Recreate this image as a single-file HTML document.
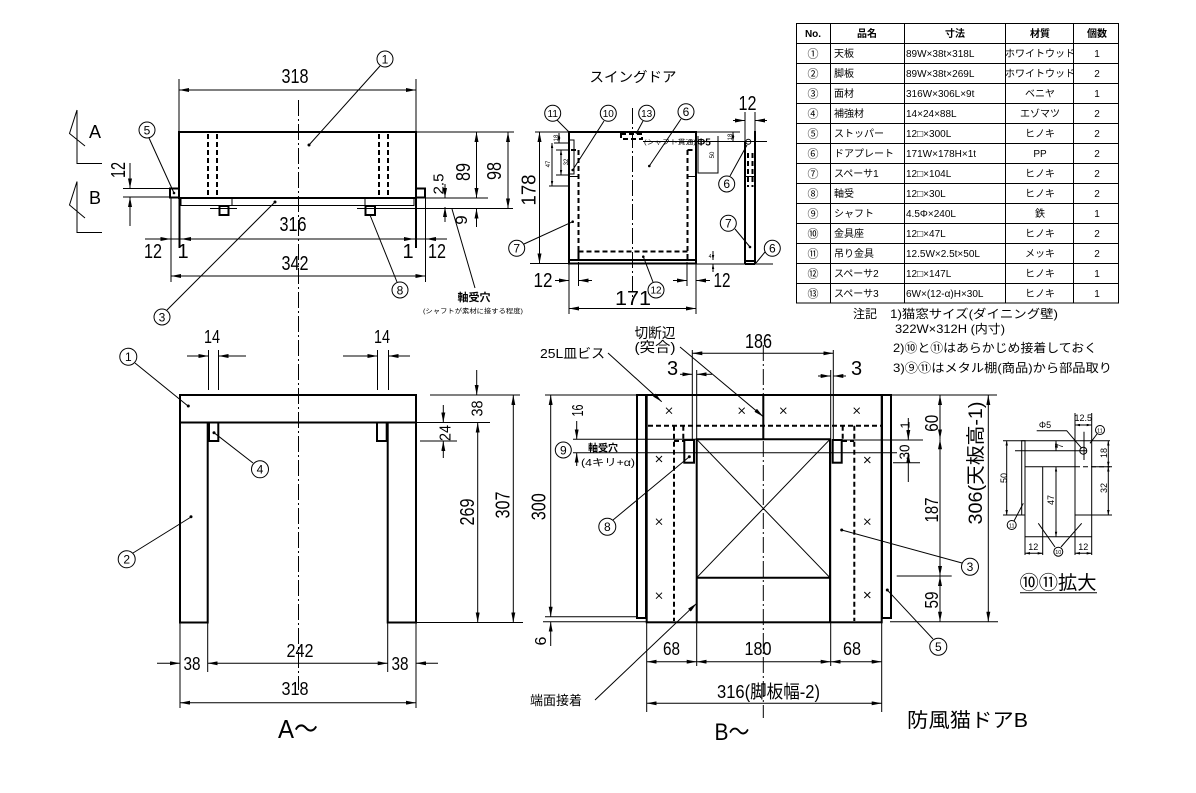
<!DOCTYPE html>
<html><head><meta charset="utf-8"><title>防風猫ドアB</title>
<style>
html,body{margin:0;padding:0;background:#fff;width:1196px;height:793px;overflow:hidden}
svg{display:block}
text{font-family:"Liberation Sans","Noto Sans CJK JP",sans-serif;fill:#000}
.t,.t *{stroke:#000;stroke-width:1;fill:none}
.k,.k *{stroke:#000;stroke-width:2;fill:none}
.ds,.ds *{stroke:#000;stroke-width:2;fill:none;stroke-dasharray:5 3}
.cl{stroke:#000;stroke-width:1;fill:none;stroke-dasharray:16 3 2 3}
.m{marker-start:url(#a);marker-end:url(#a)}
.e{marker-end:url(#a)}
.ms{marker-start:url(#s);marker-end:url(#s)}
.es{marker-end:url(#s)}
.n{font-size:20px;text-anchor:middle}
.c{font-size:12px;text-anchor:middle}
.c2{font-size:10px;text-anchor:middle}
.tb{font-size:10px}
.tc{font-size:10px;text-anchor:middle}
.tn{font-size:11px;text-anchor:middle}
.sm{font-size:8px;text-anchor:middle}
</style></head>
<body>
<svg width="1196" height="793" viewBox="0 0 1196 793" xmlns="http://www.w3.org/2000/svg">
<defs>
<marker id="a" viewBox="0 0 10 4" refX="10" refY="2" markerWidth="10" markerHeight="4" markerUnits="userSpaceOnUse" orient="auto-start-reverse"><path d="M0,0L10,2L0,4z" fill="#000"/></marker>
<marker id="s" viewBox="0 0 6 3" refX="6" refY="1.5" markerWidth="5" markerHeight="2.5" markerUnits="userSpaceOnUse" orient="auto-start-reverse"><path d="M0,0L6,1.5L0,3z" fill="#000"/></marker>
</defs>
<rect width="1196" height="793" fill="#fff"/>

<!-- ================= TOP VIEW ================= -->
<g class="t">
<path d="M179,79V131M416,79V131"/>
<path d="M417,132H514"/>
<path d="M425,198H488"/>
<path d="M357,208.5H513"/>
<path d="M210,208.5H237"/>
<rect x="181" y="198" width="233" height="7.5"/>
<path d="M232,198V205.5M365,198V205.5"/>
<path d="M123,188.5H170M123,197H170"/>
<path d="M171,198V282M425.5,198V282"/>
<path d="M145,239H447"/>
<path class="m" d="M179,90H416"/>
<path class="e" d="M130,163V188.5"/>
<path class="e" d="M130,226V197"/>
<path class="e" d="M150,239H170.5"/>
<path class="m" d="M181,239H414"/>
<path class="e" d="M446,239H426"/>
<path class="m" d="M171,276H425.5"/>
<path class="m" d="M476.5,132V198"/>
<path class="e" d="M476.5,227V208.5"/>
<path class="m" d="M508,132V208.5"/>
<path class="e" d="M445,184V198"/>
<path class="e" d="M445,222V207"/>
<path d="M77,110V163.5H102M77,110L69.5,133.5L85,146"/>
<path d="M77,181.5V232.5H102M77,181.5L69.5,205L85,218"/>
<path d="M380,66L309,145M149,138L174,193M167,310L275,202M397,282L370,215M452,209L475,288"/>
<circle cx="385" cy="59" r="8"/>
<circle cx="147" cy="130" r="8"/>
<circle cx="162" cy="317" r="8"/>
<circle cx="400" cy="290" r="8"/>
</g>
<g class="k">
<rect x="179" y="132" width="237" height="66"/>
<rect x="170" y="188.5" width="9" height="9"/>
<rect x="416" y="188.5" width="9" height="9"/>
<rect x="219.5" y="206" width="9" height="9"/>
<rect x="365.5" y="206" width="9.5" height="9"/>
<path d="M179.5,198V248M416,198V248"/>
</g>
<g class="ds"><path d="M208,134V197M217,134V197M379,134V197M388,134V197"/></g>
<path class="cl" d="M298.5,100V690"/>
<g fill="#000"><circle cx="309" cy="145" r="1.5"/><circle cx="275" cy="202" r="1.5"/><circle cx="174" cy="193" r="1.3"/></g>

<text class="n" x="295" y="83" textLength="27" lengthAdjust="spacingAndGlyphs">318</text>
<text class="n" x="293" y="231" textLength="27" lengthAdjust="spacingAndGlyphs">316</text>
<text class="n" x="295" y="270" textLength="27" lengthAdjust="spacingAndGlyphs">342</text>
<text class="n" x="153" y="258" textLength="18" lengthAdjust="spacingAndGlyphs">12</text>
<text class="n" x="183" y="258">1</text>
<text class="n" x="408" y="258">1</text>
<text class="n" x="437" y="258" textLength="18" lengthAdjust="spacingAndGlyphs">12</text>
<text class="n" x="118" y="170" dy=".36em" transform="rotate(-90 118 170)" textLength="16" lengthAdjust="spacingAndGlyphs">12</text>
<text class="n" x="463" y="172" dy=".36em" transform="rotate(-90 463 172)" textLength="18" lengthAdjust="spacingAndGlyphs">89</text>
<text class="n" x="494" y="171" dy=".36em" transform="rotate(-90 494 171)" textLength="18" lengthAdjust="spacingAndGlyphs">98</text>
<text class="n" style="font-size:15px" x="438" y="184" dy=".36em" transform="rotate(-90 438 184)" textLength="21" lengthAdjust="spacingAndGlyphs">2.5</text>
<text class="n" style="font-size:17px" x="461" y="220" dy=".36em" transform="rotate(-90 461 220)">9</text>
<text style="font-size:18px" x="89" y="138">A</text>
<text style="font-size:18px" x="89" y="204">B</text>
<text class="c" x="385" y="63.5">1</text>
<text class="c" x="147" y="134.5">5</text>
<text class="c" x="162" y="321.5">3</text>
<text class="c" x="400" y="294.5">8</text>
<text x="474" y="301" style="font-size:11px;font-weight:bold;text-anchor:middle">軸受穴</text>
<text x="473" y="313" style="font-size:6.5px;text-anchor:middle" textLength="100" lengthAdjust="spacingAndGlyphs">(シャフトが素材に接する程度)</text>

<!-- ================= SWING DOOR ================= -->
<text x="633" y="82" style="font-size:14px;text-anchor:middle" textLength="87" lengthAdjust="spacingAndGlyphs">スイングドア</text>
<g class="k">
<rect x="569" y="132" width="127" height="131.5"/>
<path d="M569,260H696"/>
<path d="M745,142V264M755,131V264M745,264H755M745,261H755"/>
</g>
<g class="t">
<path d="M569,176.5H578M688,176.5H696M745,176.5H755"/>
<rect x="569.5" y="140" width="4.5" height="34"/>
<path d="M698,136V173H718V136"/>
<path d="M643,141.5H767"/>
<path d="M535,132H569M530,263.5H569"/>
<path class="m" d="M539.5,132V263.5"/>
<path d="M554,143H569M556,150H569M556,175H569M549,186H569"/>
<path class="ms" d="M559,133V143"/>
<path class="ms" d="M561,150V175"/>
<path class="ms" d="M552,143V186"/>
<path d="M696,132H740"/>
<path class="ms" d="M733,132V141.5"/>
<path d="M745,112V141M755,112V131"/>
<path class="e" d="M733,120.5H745"/>
<path class="e" d="M767,120.5H755"/>
<path d="M696,264H773"/>
<path d="M578.5,262V286M687,262V286M569,264V314M696,264V314"/>
<path class="e" d="M555,280.5H569"/>
<path class="e" d="M592,280.5H578.5"/>
<path class="e" d="M673,280.5H687"/>
<path class="e" d="M710,280.5H696"/>
<path class="m" d="M569,308.5H696"/>
<path class="es" d="M713,251V260"/>
<path class="es" d="M713,272V264"/>
<path d="M557,120L569,132M604,121L572.7,170M643,121L636,134M681,119L649.3,166M524,244L572.7,221.7M653,282L643.3,256.7M730,176L747,145M735,229L750,247M765,252L756,263"/>
<circle cx="748.3" cy="141.7" r="2.5"/>
<circle cx="552.7" cy="113.3" r="8"/>
<circle cx="608.3" cy="113.3" r="8"/>
<circle cx="646.7" cy="113.3" r="8"/>
<circle cx="686" cy="111.7" r="8"/>
<circle cx="516.7" cy="248.3" r="8"/>
<circle cx="656" cy="290" r="8"/>
<circle cx="726.7" cy="184" r="8"/>
<circle cx="728.3" cy="223.3" r="8"/>
<circle cx="772.3" cy="248.3" r="8"/>
</g>
<g class="ds">
<path d="M578.5,150V259M687.5,150V259M571,150H578.5M687.5,150H694"/>
<rect x="578.5" y="251.5" width="109" height="8.5"/>
<rect x="621" y="134" width="21" height="5"/>
<path d="M748,153V187M752.5,153V187"/>
</g>
<path class="cl" d="M632.5,108V298"/>
<g fill="#000"><circle cx="572.7" cy="170" r="1.3"/><circle cx="649.3" cy="166" r="1.3"/><circle cx="572.7" cy="221.7" r="1.3"/><circle cx="643.3" cy="256.7" r="1.3"/><circle cx="750" cy="247" r="1.3"/></g>
<text class="n" x="528.5" y="190" dy=".36em" transform="rotate(-90 528.5 190)" textLength="31" lengthAdjust="spacingAndGlyphs">178</text>
<text class="n" x="543" y="287" textLength="19" lengthAdjust="spacingAndGlyphs">12</text>
<text class="n" x="722" y="287" textLength="17" lengthAdjust="spacingAndGlyphs">12</text>
<text class="n" x="633" y="305" textLength="36" lengthAdjust="spacingAndGlyphs">171</text>
<text class="n" x="747.5" y="110" textLength="18" lengthAdjust="spacingAndGlyphs">12</text>
<text class="sm" style="font-size:6px" x="556" y="138" dy=".36em" transform="rotate(-90 556 138)">18</text>
<text class="sm" style="font-size:6px" x="566" y="162" dy=".36em" transform="rotate(-90 566 162)">32</text>
<text class="sm" style="font-size:6px" x="548" y="164" dy=".36em" transform="rotate(-90 548 164)">47</text>
<text class="sm" style="font-size:6px" x="712" y="155" dy=".36em" transform="rotate(-90 712 155)">50</text>
<text class="sm" style="font-size:6px" x="730" y="137" dy=".36em" transform="rotate(-90 730 137)">18</text>
<text class="sm" style="font-size:5px" x="710" y="258">4</text>
<text x="644" y="144" style="font-size:6.5px" textLength="52" lengthAdjust="spacingAndGlyphs">(シャフト貫通)</text>
<text x="697" y="145.5" style="font-size:10px;font-weight:bold">Φ5</text>
<text class="c2" x="552.7" y="117">11</text>
<text class="c2" x="608.3" y="117">10</text>
<text class="c2" x="646.7" y="117">13</text>
<text class="c" x="686" y="116">6</text>
<text class="c" x="516.7" y="252.5">7</text>
<text class="c2" x="656" y="293.7">12</text>
<text class="c" x="726.7" y="188">6</text>
<text class="c" x="728.3" y="227.5">7</text>
<text class="c" x="772.3" y="252.5">6</text>

<!-- ================= TABLE ================= -->
<g class="t">
<rect x="796.5" y="23.5" width="322" height="279.5"/>
<path d="M830.5,23.5V303M904.5,23.5V303M1005.5,23.5V303M1073.5,23.5V303"/>
<path d="M796.5,43.5H1118.5M796.5,63.5H1118.5M796.5,83.5H1118.5M796.5,103.5H1118.5M796.5,123.5H1118.5M796.5,143.5H1118.5M796.5,163.5H1118.5M796.5,183.5H1118.5M796.5,203.5H1118.5M796.5,223.5H1118.5M796.5,243.5H1118.5M796.5,263.5H1118.5M796.5,283.5H1118.5"/>
</g>
<g style="font-weight:bold">
<text x="813" y="37" class="tc">No.</text>
<text x="867" y="37" class="tc">品名</text>
<text x="955" y="37" class="tc">寸法</text>
<text x="1040" y="37" class="tc">材質</text>
<text x="1097" y="37" class="tc">個数</text>
</g>
<g>
<text class="tn" x="813" y="57.5">①</text><text class="tb" x="834" y="57">天板</text><text class="tb" x="906" y="57">89W×38t×318L</text><text class="tc" x="1040" y="57">ホワイトウッド</text><text class="tc" x="1097" y="57">1</text>
<text class="tn" x="813" y="77.5">②</text><text class="tb" x="834" y="77">脚板</text><text class="tb" x="906" y="77">89W×38t×269L</text><text class="tc" x="1040" y="77">ホワイトウッド</text><text class="tc" x="1097" y="77">2</text>
<text class="tn" x="813" y="97.5">③</text><text class="tb" x="834" y="97">面材</text><text class="tb" x="906" y="97">316W×306L×9t</text><text class="tc" x="1040" y="97">ベニヤ</text><text class="tc" x="1097" y="97">1</text>
<text class="tn" x="813" y="117.5">④</text><text class="tb" x="834" y="117">補強材</text><text class="tb" x="906" y="117">14×24×88L</text><text class="tc" x="1040" y="117">エゾマツ</text><text class="tc" x="1097" y="117">2</text>
<text class="tn" x="813" y="137.5">⑤</text><text class="tb" x="834" y="137">ストッパー</text><text class="tb" x="906" y="137">12□×300L</text><text class="tc" x="1040" y="137">ヒノキ</text><text class="tc" x="1097" y="137">2</text>
<text class="tn" x="813" y="157.5">⑥</text><text class="tb" x="834" y="157">ドアプレート</text><text class="tb" x="906" y="157">171W×178H×1t</text><text class="tc" x="1040" y="157">PP</text><text class="tc" x="1097" y="157">2</text>
<text class="tn" x="813" y="177.5">⑦</text><text class="tb" x="834" y="177">スペーサ1</text><text class="tb" x="906" y="177">12□×104L</text><text class="tc" x="1040" y="177">ヒノキ</text><text class="tc" x="1097" y="177">2</text>
<text class="tn" x="813" y="197.5">⑧</text><text class="tb" x="834" y="197">軸受</text><text class="tb" x="906" y="197">12□×30L</text><text class="tc" x="1040" y="197">ヒノキ</text><text class="tc" x="1097" y="197">2</text>
<text class="tn" x="813" y="217.5">⑨</text><text class="tb" x="834" y="217">シャフト</text><text class="tb" x="906" y="217">4.5Φ×240L</text><text class="tc" x="1040" y="217">鉄</text><text class="tc" x="1097" y="217">1</text>
<text class="tn" x="813" y="237.5">⑩</text><text class="tb" x="834" y="237">金具座</text><text class="tb" x="906" y="237">12□×47L</text><text class="tc" x="1040" y="237">ヒノキ</text><text class="tc" x="1097" y="237">2</text>
<text class="tn" x="813" y="257.5">⑪</text><text class="tb" x="834" y="257">吊り金具</text><text class="tb" x="906" y="257">12.5W×2.5t×50L</text><text class="tc" x="1040" y="257">メッキ</text><text class="tc" x="1097" y="257">2</text>
<text class="tn" x="813" y="277.5">⑫</text><text class="tb" x="834" y="277">スペーサ2</text><text class="tb" x="906" y="277">12□×147L</text><text class="tc" x="1040" y="277">ヒノキ</text><text class="tc" x="1097" y="277">1</text>
<text class="tn" x="813" y="297.5">⑬</text><text class="tb" x="834" y="297">スペーサ3</text><text class="tb" x="906" y="297">6W×(12-α)H×30L</text><text class="tc" x="1040" y="297">ヒノキ</text><text class="tc" x="1097" y="297">1</text>
</g>

<!-- ================= NOTES ================= -->
<g style="font-size:12px">
<text x="853" y="318">注記</text>
<text x="890" y="318" textLength="168" lengthAdjust="spacingAndGlyphs">1)猫窓サイズ(ダイニング壁)</text>
<text x="895" y="333" textLength="110" lengthAdjust="spacingAndGlyphs">322W×312H (内寸)</text>
<text x="893" y="352" textLength="204" lengthAdjust="spacingAndGlyphs">2)⑩と⑪はあらかじめ接着しておく</text>
<text x="893" y="372" textLength="219" lengthAdjust="spacingAndGlyphs">3)⑨⑪はメタル棚(商品)から部品取り</text>
</g>

<!-- ================= A~ VIEW ================= -->
<g class="k">
<rect x="180" y="395" width="236" height="27.5"/>
<path d="M180,422.5V622.5H207.7V422.5M387.7,422.5V622.5H416V422.5"/>
<rect x="209" y="422.5" width="9.3" height="18.5"/>
<rect x="377" y="422.5" width="9.7" height="18.5"/>
</g>
<g class="t">
<path d="M208.5,350V390M218.5,350V390M377.5,350V390M388.5,350V390"/>
<path class="e" d="M187,356H208.5"/>
<path class="e" d="M246,356H218.5"/>
<path class="e" d="M343,356H377.5"/>
<path class="e" d="M410,356H388.5"/>
<path d="M430,395H520M417,422.5H490M420,441H457M417,622.5H523"/>
<path class="e" d="M476.7,370V395"/>
<path class="m" d="M477.7,422.5V622.5"/>
<path class="e" d="M443.3,405V422.5"/>
<path class="e" d="M443.3,458V441"/>
<path class="m" d="M513.3,395V622.5"/>
<path d="M180,622.5V708M207.7,622.5V672M387.7,622.5V672M416,622.5V708"/>
<path class="e" d="M157,663.3H180"/>
<path class="m" d="M207.7,663.3H387.7"/>
<path class="e" d="M438,663.3H416"/>
<path class="m" d="M180,702.7H416"/>
<path d="M135,363L188,406M133,553L191,517M253,463L214,432.7"/>
<circle cx="128.3" cy="356.7" r="8.5"/>
<circle cx="126.7" cy="559.3" r="8.5"/>
<circle cx="260" cy="469.3" r="8.5"/>
</g>
<g fill="#000"><circle cx="188.3" cy="406" r="1.5"/><circle cx="191" cy="516.7" r="1.5"/><circle cx="214" cy="432.7" r="1.5"/></g>
<text class="c" x="128.3" y="361">1</text>
<text class="c" x="126.7" y="563.5">2</text>
<text class="c" x="260" y="473.5">4</text>
<text class="n" style="font-size:18px" x="212" y="343" textLength="16" lengthAdjust="spacingAndGlyphs">14</text>
<text class="n" style="font-size:18px" x="382" y="343" textLength="16" lengthAdjust="spacingAndGlyphs">14</text>
<text class="n" style="font-size:16px" x="476.7" y="408.5" dy=".36em" transform="rotate(-90 476.7 408.5)" textLength="16" lengthAdjust="spacingAndGlyphs">38</text>
<text class="n" style="font-size:16px" x="444.5" y="433" dy=".36em" transform="rotate(-90 444.5 433)" textLength="16" lengthAdjust="spacingAndGlyphs">24</text>
<text class="n" x="466.7" y="512" dy=".36em" transform="rotate(-90 466.7 512)" textLength="27" lengthAdjust="spacingAndGlyphs">269</text>
<text class="n" x="502.5" y="505" dy=".36em" transform="rotate(-90 502.5 505)" textLength="27" lengthAdjust="spacingAndGlyphs">307</text>
<text class="n" style="font-size:18px" x="192" y="670" textLength="17" lengthAdjust="spacingAndGlyphs">38</text>
<text class="n" style="font-size:18px" x="300" y="657" textLength="27" lengthAdjust="spacingAndGlyphs">242</text>
<text class="n" style="font-size:18px" x="400" y="670" textLength="17" lengthAdjust="spacingAndGlyphs">38</text>
<text class="n" style="font-size:18px" x="295" y="695" textLength="27" lengthAdjust="spacingAndGlyphs">318</text>
<text x="298" y="738" style="font-size:26px;text-anchor:middle" textLength="40" lengthAdjust="spacingAndGlyphs">A～</text>

<!-- ================= B~ VIEW ================= -->
<g class="k">
<rect x="637" y="395" width="9" height="223"/>
<rect x="882" y="395" width="9" height="223"/>
<rect x="646.7" y="395" width="235" height="227.3"/>
<path d="M696.7,622.3V439.3H830V622.3M696.7,577.7H830M763.3,395V439.3"/>
<rect x="684.3" y="440" width="9.7" height="22.7"/>
<rect x="832.7" y="440" width="9" height="22.7"/>
</g>
<g class="ds"><path d="M648,425.7H881M674,425.7V621M854.3,425.7V621M683.3,425.7V441M842.7,425.7V441M674,441H684M842,441H854"/></g>
<g class="t">
<path d="M696.7,439.3L830,577.7M830,439.3L696.7,577.7"/>
<path d="M666,407.7l6,6m0,-6l-6,6M738.7,407.7l6,6m0,-6l-6,6M780.3,407.7l6,6m0,-6l-6,6M853.7,407.7l6,6m0,-6l-6,6M656,456l6,6m0,-6l-6,6M864.3,457l6,6m0,-6l-6,6M656,518.7l6,6m0,-6l-6,6M864.3,518.7l6,6m0,-6l-6,6M656,592.7l6,6m0,-6l-6,6M864.3,592l6,6m0,-6l-6,6"/>
<path d="M692.3,350V440M696.7,370V666M833.3,350V440M830.7,370V666"/>
<path class="m" d="M692.3,353.3H833.3"/>
<path class="e" d="M680,374.3H692.3"/>
<path class="e" d="M712,374.3H696.7"/>
<path class="e" d="M818,376H830.7"/>
<path class="e" d="M846,376H833.3"/>
<path d="M545,395H636M545,616.7H636M543,621.7H646"/>
<path class="m" d="M550.7,395V616.7"/>
<path class="e" d="M550.7,646V621.7"/>
<path d="M573,439.3H696.7M573,452.7H897M833,440H923"/>
<path class="e" d="M576.7,421V439.3"/>
<path class="e" d="M576.7,466V452.7"/>
<path d="M890,395H997M896.7,576H951.7M890,621.7H998M893,462.7H920"/>
<path class="m" d="M940,395V439.3"/>
<path class="m" d="M940,439.3V576"/>
<path class="m" d="M940,576V621.7"/>
<path class="m" d="M988.3,395V621.7"/>
<path class="e" d="M908.3,418V440"/>
<path class="e" d="M908.3,482V452.7"/>
<path d="M646.7,622V712M881.7,622V712"/>
<path class="m" d="M646.7,661.7H696.7"/>
<path class="m" d="M696.7,661.7H830.7"/>
<path class="m" d="M830.7,661.7H881.7"/>
<path class="m" d="M646.7,703.3H881.7"/>
<path class="e" d="M608,353L661.7,401.7"/>
<path class="e" d="M680,347L763.3,416.7"/>
<path class="e" d="M595,700L696.7,603.3"/>
<path d="M613,520L689.3,456.7M962,563L841.7,530M933,639L887.3,590"/>
<circle cx="563.3" cy="450" r="8"/>
<circle cx="607.3" cy="526.7" r="8.5"/>
<circle cx="970" cy="566.7" r="8.5"/>
<circle cx="938.3" cy="646.7" r="8.5"/>
</g>
<path class="cl" d="M763.3,345V718"/>
<g fill="#000"><circle cx="689.3" cy="456.7" r="1.5"/><circle cx="841.7" cy="530" r="1.5"/><circle cx="887.3" cy="590" r="1.5"/></g>
<text class="c" x="563.3" y="454.3">9</text>
<text class="c" x="607.3" y="531">8</text>
<text class="c" x="970" y="571">3</text>
<text class="c" x="938.3" y="651">5</text>
<text class="n" x="758.5" y="348" textLength="27" lengthAdjust="spacingAndGlyphs">186</text>
<text class="n" x="672.5" y="375">3</text>
<text class="n" x="856.5" y="375">3</text>
<text class="n" x="538.5" y="506.7" dy=".36em" transform="rotate(-90 538.5 506.7)" textLength="27" lengthAdjust="spacingAndGlyphs">300</text>
<text class="n" style="font-size:16px" x="540" y="641" dy=".36em" transform="rotate(-90 540 641)">6</text>
<text class="n" style="font-size:16px" x="577" y="410.5" dy=".36em" transform="rotate(-90 577 410.5)" textLength="12" lengthAdjust="spacingAndGlyphs">16</text>
<text x="588" y="451.5" style="font-size:10px;font-weight:bold">軸受穴</text>
<text x="581" y="466" style="font-size:10px" textLength="54" lengthAdjust="spacingAndGlyphs">(4キリ+α)</text>
<text x="540" y="358" style="font-size:13px" textLength="65" lengthAdjust="spacingAndGlyphs">25L皿ビス</text>
<text x="655" y="338" style="font-size:14px;text-anchor:middle" textLength="41" lengthAdjust="spacingAndGlyphs">切断辺</text>
<text x="655" y="352" style="font-size:14px;text-anchor:middle" textLength="41" lengthAdjust="spacingAndGlyphs">(突合)</text>
<text x="530" y="705" style="font-size:13px" textLength="52" lengthAdjust="spacingAndGlyphs">端面接着</text>
<text class="n" style="font-size:18px" x="931.5" y="423.3" dy=".36em" transform="rotate(-90 931.5 423.3)" textLength="17" lengthAdjust="spacingAndGlyphs">60</text>
<text class="n" style="font-size:18px" x="931.5" y="510" dy=".36em" transform="rotate(-90 931.5 510)" textLength="25" lengthAdjust="spacingAndGlyphs">187</text>
<text class="n" style="font-size:18px" x="931.5" y="600" dy=".36em" transform="rotate(-90 931.5 600)" textLength="17" lengthAdjust="spacingAndGlyphs">59</text>
<text class="n" style="font-size:15px" x="904" y="452" dy=".36em" transform="rotate(-90 904 452)" textLength="15" lengthAdjust="spacingAndGlyphs">30</text>
<text class="n" style="font-size:13px" x="905" y="425" dy=".36em" transform="rotate(-90 905 425)">1</text>
<text class="n" style="font-size:19px" x="975" y="463" dy=".36em" transform="rotate(-90 975 463)" textLength="123" lengthAdjust="spacingAndGlyphs">306(天板高-1)</text>
<text class="n" style="font-size:18px" x="671.5" y="655" textLength="17" lengthAdjust="spacingAndGlyphs">68</text>
<text class="n" style="font-size:18px" x="758" y="655" textLength="27" lengthAdjust="spacingAndGlyphs">180</text>
<text class="n" style="font-size:18px" x="852" y="655" textLength="18" lengthAdjust="spacingAndGlyphs">68</text>
<text x="717" y="698" style="font-size:18px" textLength="103" lengthAdjust="spacingAndGlyphs">316(脚板幅-2)</text>
<text x="732" y="740" style="font-size:24px;text-anchor:middle" textLength="35" lengthAdjust="spacingAndGlyphs">B～</text>
<text x="907" y="727" style="font-size:20px" textLength="121" lengthAdjust="spacingAndGlyphs">防風猫ドアB</text>

<!-- ================= DETAIL ⑩⑪ ================= -->
<g class="t">
<path d="M1003,440.7H1110"/>
<rect x="1021.7" y="440.7" width="3.3" height="74.3"/>
<path d="M1025,466.7V555M1042.7,466.7V555M1025,466.7H1075"/>
<path d="M1075,440.7V555M1091.7,440.7V555"/>
<path d="M1003,515H1021.7M1075,515H1112M1025,536.7H1091.7"/>
<path d="M1015,450.7H1087M1084,431.7V460"/>
<circle cx="1083.3" cy="450.7" r="3.5"/>
<path d="M1075,413V440.7M1091.7,413V440.7"/>
<path class="ms" d="M1075,425H1091.7"/>
<path class="ms" d="M1006.7,440.7V515"/>
<path class="ms" d="M1056,466.7V536.7"/>
<path class="ms" d="M1108.3,440.7V466.7"/>
<path class="ms" d="M1108.3,466.7V515"/>
<path class="ms" d="M1056,440.7V450.7"/>
<path d="M1092,466.7H1112"/>
<path class="ms" d="M1025,553.3H1042.7"/>
<path class="ms" d="M1075,553.3H1091.7"/>
<path d="M1036.7,430.7H1066.7L1081.7,448.3M1097,434L1090,443.3M1014,521L1023.3,503.3M1055,547L1038.3,523.3M1061,547L1081.7,523.3"/>
<circle cx="1100" cy="430" r="4.5"/>
<circle cx="1011.7" cy="525" r="4.5"/>
<circle cx="1058.3" cy="551.7" r="4.5"/>
<path d="M1020,592.7H1097"/>
</g>
<g class="ds" style="stroke-width:1"><path d="M1075,466.7H1110" style="stroke-width:1"/></g>
<text class="sm" x="1004" y="478" dy=".36em" transform="rotate(-90 1004 478)" style="font-size:9px">50</text>
<text class="sm" x="1051" y="500" dy=".36em" transform="rotate(-90 1051 500)" style="font-size:9px">47</text>
<text class="sm" x="1104" y="453" dy=".36em" transform="rotate(-90 1104 453)" style="font-size:9px">18</text>
<text class="sm" x="1104" y="488" dy=".36em" transform="rotate(-90 1104 488)" style="font-size:9px">32</text>
<text class="sm" x="1060" y="446" dy=".36em" transform="rotate(-90 1060 446)" style="font-size:8px">7</text>
<text class="sm" x="1083.3" y="421" style="font-size:9px">12.5</text>
<text class="sm" x="1045" y="428" style="font-size:9px">Φ5</text>
<text class="sm" x="1033.3" y="550" style="font-size:9px">12</text>
<text class="sm" x="1083.3" y="550" style="font-size:9px">12</text>
<text class="sm" x="1100" y="432.5" style="font-size:5.5px">11</text>
<text class="sm" x="1011.7" y="527.5" style="font-size:5.5px">11</text>
<text class="sm" x="1058.3" y="554.2" style="font-size:5.5px">10</text>
<text x="1058" y="589" style="font-size:19px;text-anchor:middle" textLength="77" lengthAdjust="spacingAndGlyphs">⑩⑪拡大</text>
</svg>
</body></html>
